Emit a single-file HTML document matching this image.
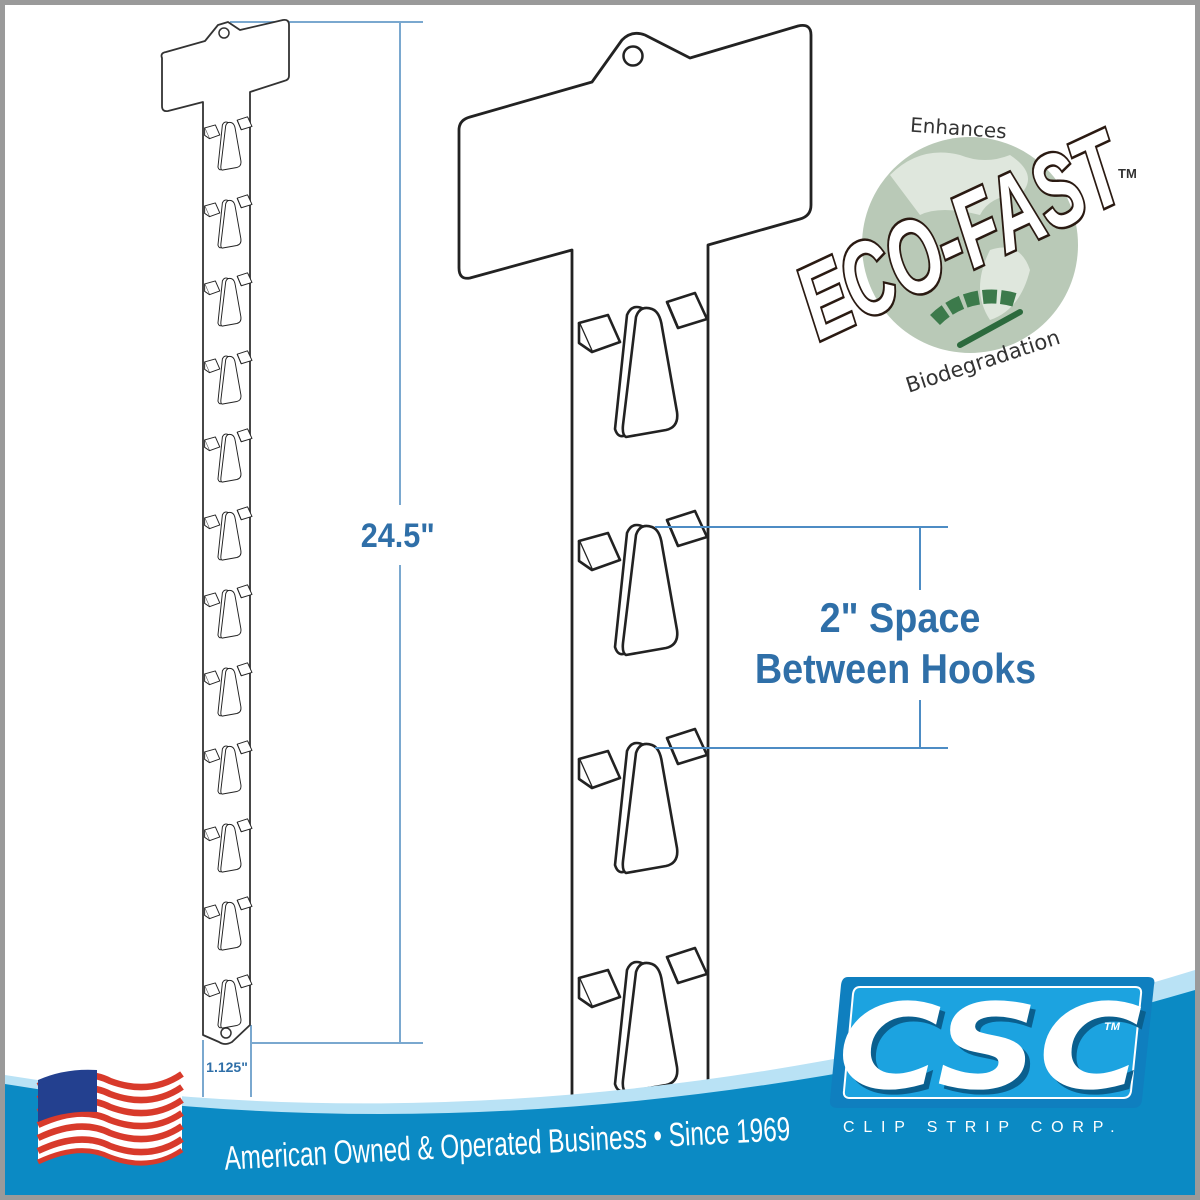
<!DOCTYPE html>
<html><head><meta charset="utf-8"><style>
html,body{margin:0;padding:0;background:#fff}
svg{display:block}
</style></head><body>
<svg width="1200" height="1200" viewBox="0 0 1200 1200" xmlns="http://www.w3.org/2000/svg">
<defs>
<g id="hook" fill="#fff" stroke="#222" stroke-width="2.6" stroke-linejoin="round">
  <path d="M-1,16 L28,8 L40,35 L12,45 Z"/>
  <path d="M-1,16 L-1,36 L12,45"/>
  <path d="M87,-5 L115,-14 L127,12 L98,21 Z"/>
  <path d="M87,-5 L98,21"/>
  <path d="M47,8 Q52,-4 64,2 L46,128 Q38,132 35,122 Z"/>
  <path d="M56,10 Q60,-2 72,2 Q80,5 82,20 L97,105 Q99,120 86,123 L46,130 Q42,128 43,118 Z"/>
</g>
</defs>
<rect x="0" y="0" width="1200" height="1200" fill="#9a9a9a"/>
<rect x="5" y="5" width="1190" height="1190" fill="#fff"/>

<!-- dimension lines left -->
<g stroke="#7aa8cf" stroke-width="2" fill="none">
  <line x1="230" y1="22" x2="423" y2="22"/>
  <line x1="250" y1="1043" x2="423" y2="1043"/>
  <line x1="400" y1="22" x2="400" y2="505"/>
  <line x1="400" y1="565" x2="400" y2="1043"/>
  <line x1="203" y1="1040" x2="203" y2="1097"/>
  <line x1="251" y1="1025" x2="251" y2="1097"/>
</g>
<text x="398" y="547" font-family="Liberation Sans, sans-serif" font-weight="bold" font-size="34" fill="#2f6fa8" text-anchor="middle" transform="scale(0.9,1) translate(44,0)">24.5"</text>
<text x="227" y="1072" font-family="Liberation Sans, sans-serif" font-weight="bold" font-size="14" fill="#2f6fa8" text-anchor="middle">1.125"</text>

<!-- small strip -->
<path d="M162,58 Q160,53 166,52 L205,41 L218,25 L228,22 L240,30 L283,20 Q289,19 289,25 L289,76 Q289,80 284,81 L250,92 L250,1025 L232,1042 Q225,1046 219,1042 L203,1035 L203,102 L168,111 Q162,112 162,106 Z" fill="#fff" stroke="#333" stroke-width="1.8" stroke-linejoin="round"/>
<circle cx="224" cy="33" r="5" fill="none" stroke="#333" stroke-width="1.5"/>
<circle cx="226" cy="1033" r="5" fill="none" stroke="#333" stroke-width="1.5"/>
<g>
  <use href="#hook" transform="translate(205,122) scale(0.37)"/>
  <use href="#hook" transform="translate(205,200) scale(0.37)"/>
  <use href="#hook" transform="translate(205,278) scale(0.37)"/>
  <use href="#hook" transform="translate(205,356) scale(0.37)"/>
  <use href="#hook" transform="translate(205,434) scale(0.37)"/>
  <use href="#hook" transform="translate(205,512) scale(0.37)"/>
  <use href="#hook" transform="translate(205,590) scale(0.37)"/>
  <use href="#hook" transform="translate(205,668) scale(0.37)"/>
  <use href="#hook" transform="translate(205,746) scale(0.37)"/>
  <use href="#hook" transform="translate(205,824) scale(0.37)"/>
  <use href="#hook" transform="translate(205,902) scale(0.37)"/>
  <use href="#hook" transform="translate(205,980) scale(0.37)"/>
</g>

<!-- large strip -->
<path d="M572,1130 L572,250 L470,278 Q459,280 459,268 L459,130 Q459,120 470,117 L592,82 L622,40 Q632,30 645,35 L690,58 L798,26 Q811,23 811,35 L811,205 Q811,216 800,219 L708,245 L708,1130" fill="#fff" stroke="#222" stroke-width="2.8" stroke-linejoin="round"/>
<circle cx="633" cy="56" r="9.5" fill="none" stroke="#222" stroke-width="2.5"/>
<use href="#hook" transform="translate(580,307)"/>
<use href="#hook" transform="translate(580,525)"/>
<use href="#hook" transform="translate(580,743)"/>
<use href="#hook" transform="translate(580,962)"/>

<!-- 2" space dim -->
<g stroke="#4d8cc4" stroke-width="2" fill="none">
  <line x1="655" y1="527" x2="948" y2="527"/>
  <line x1="655" y1="748" x2="948" y2="748"/>
  <line x1="920" y1="527" x2="920" y2="590"/>
  <line x1="920" y1="700" x2="920" y2="748"/>
</g>
<g font-family="Liberation Sans, sans-serif" font-weight="bold" fill="#2f6fa8" text-anchor="middle">
  <text x="900" y="632" font-size="42" transform="translate(90,0) scale(0.9,1)">2" Space</text>
  <text x="895" y="683" font-size="42" transform="translate(90,0) scale(0.9,1)">Between Hooks</text>
</g>

<!-- eco-fast -->
<circle cx="970" cy="245" r="108" fill="#b9c9b7"/>
<path d="M890,175 q30,-30 70,-20 q25,10 50,0 q30,20 10,40 q-30,0 -40,20 q-40,-10 -60,0 z M990,250 q30,-10 40,20 q-10,40 -40,50 q-20,-30 0,-70z" fill="#dfe7dd"/>
<path d="M935,320 A80,80 0 0 1 1015,300" stroke="#3c7a4b" stroke-width="14" fill="none" stroke-dasharray="14 4"/>
<path d="M960,345 L1020,312" stroke="#2c6a3d" stroke-width="6" stroke-linecap="round"/>
<text x="958" y="135" font-family="DejaVu Sans, sans-serif" font-size="20" fill="#333" text-anchor="middle" transform="rotate(4 958 135)">Enhances</text>
<text x="985" y="368" font-family="DejaVu Sans, sans-serif" font-size="21" fill="#333" text-anchor="middle" transform="rotate(-18 985 368)">Biodegradation</text>
<text x="975" y="268" font-family="Liberation Sans Narrow, Liberation Sans, sans-serif" font-weight="bold" font-style="italic" font-size="80" fill="#fff" stroke="#2a1a12" stroke-width="4" paint-order="stroke" text-anchor="middle" transform="rotate(-25 975 268) translate(975,268) scale(0.85,1.3) translate(-975,-268)">ECO-FAST</text>
<text x="1118" y="178" font-family="Liberation Sans, sans-serif" font-size="13" font-weight="bold" fill="#333">TM</text>

<!-- bottom banner -->
<path d="M5,1075 Q560,1165 1195,970 L1195,1195 L5,1195 Z" fill="#b9e2f5"/>
<path d="M5,1084 Q560,1175 1195,990 L1195,1195 L5,1195 Z" fill="#0b8ac4"/>
<!-- flag -->
<g>
  <path d="M38,1080 Q80,1060 110,1075 Q150,1090 182,1068 L182,1150 Q150,1172 110,1157 Q80,1143 38,1162 Z" fill="#fff"/>
  <g stroke="#d83a2b" stroke-width="6.5" fill="none">
    <path d="M38,1086 Q80,1066 110,1081 Q150,1096 182,1074"/>
    <path d="M38,1099 Q80,1079 110,1094 Q150,1109 182,1087"/>
    <path d="M38,1112 Q80,1092 110,1107 Q150,1122 182,1100"/>
    <path d="M38,1125 Q80,1105 110,1120 Q150,1135 182,1113"/>
    <path d="M38,1138 Q80,1118 110,1133 Q150,1148 182,1126"/>
    <path d="M38,1151 Q80,1131 110,1146 Q150,1161 182,1139"/>
    <path d="M38,1162 Q80,1142 110,1157 Q150,1172 182,1150" stroke-width="5"/>
  </g>
  <path d="M38,1080 Q65,1068 97,1070 L97,1112 Q65,1110 38,1122 Z" fill="#23408f"/>
</g>
<text x="225" y="1170" font-family="Liberation Sans Narrow, Liberation Sans, sans-serif" font-size="32" fill="#fff" transform="rotate(-3 225 1170) translate(225,0) scale(0.76,1.05) translate(-225,-56)">American Owned &amp; Operated Business • Since 1969</text>

<!-- CSC logo -->
<g>
  <path d="M848,977 L1148,977 Q1156,977 1154,985 L1142,1100 Q1141,1108 1133,1108 L838,1108 Q829,1108 830,1100 L841,985 Q842,977 848,977 Z" fill="#0f7fbf"/>
  <path d="M860,987 L1135,987 Q1142,987 1141,994 L1131,1091 Q1130,1098 1123,1098 L850,1098 Q843,1098 844,1091 L853,994 Q854,987 860,987 Z" fill="#1ca3e0" stroke="#fff" stroke-width="2"/>
  <text x="990" y="1090" font-family="DejaVu Sans, sans-serif" font-weight="bold" font-style="italic" font-size="118" fill="#0a5f8e" text-anchor="middle" transform="translate(5,3) scale(1.05,1) translate(-47,0)" textLength="290" lengthAdjust="spacingAndGlyphs">CSC</text>
  <text x="990" y="1088" font-family="DejaVu Sans, sans-serif" font-weight="bold" font-style="italic" font-size="118" fill="#fff" text-anchor="middle" transform="scale(1.05,1) translate(-47,0)" textLength="290" lengthAdjust="spacingAndGlyphs">CSC</text>
  <text x="1104" y="1030" font-family="Liberation Sans, sans-serif" font-style="italic" font-weight="bold" font-size="11" fill="#fff">TM</text>
</g>
<text x="843" y="1132" font-family="Liberation Sans, sans-serif" font-size="16" fill="#fff" letter-spacing="8.8">CLIP  STRIP  CORP.</text>
</svg>
</body></html>
